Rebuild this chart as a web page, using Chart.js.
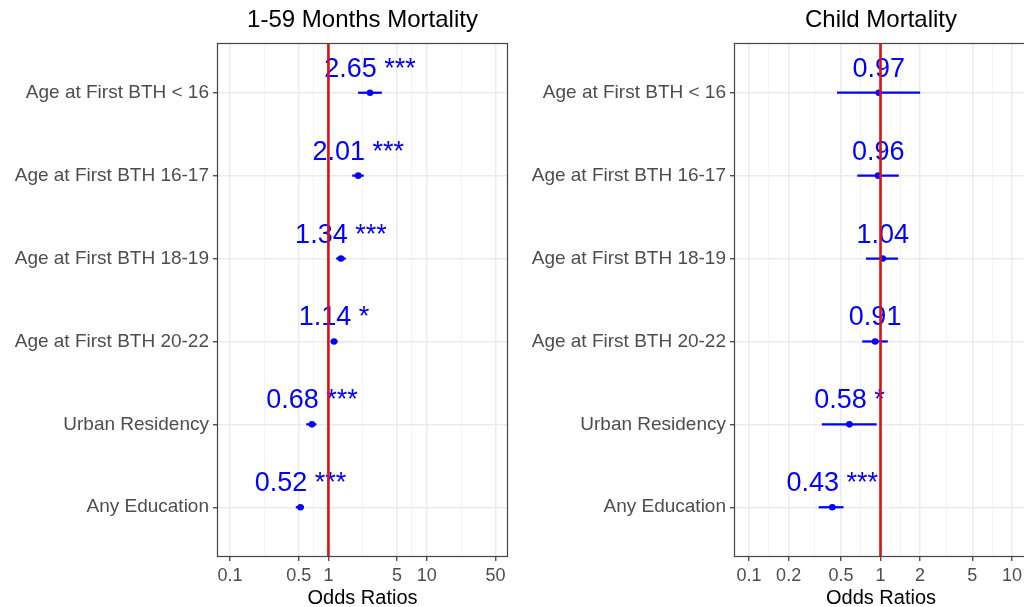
<!DOCTYPE html>
<html>
<head>
<meta charset="utf-8">
<script src="https://cdn.jsdelivr.net/npm/chart.js@4/dist/chart.umd.min.js"></script>
<style>
    html, body { margin: 0; padding: 0; background: #fff; overflow: hidden; }
    canvas { position: absolute; top: 0; }
    #left { left: 0; }
    #right { left: 512px; }
</style>
</head>
<body>
<canvas id="left" width="512" height="607"></canvas>
<canvas id="right" width="520" height="607"></canvas>
<script>
const categories = ['Age at First BTH < 16', 'Age at First BTH 16-17', 'Age at First BTH 18-19',
    'Age at First BTH 20-22', 'Urban Residency', 'Any Education'];

// 1-59 months mortality
const monthsOR = [2.65, 2.01, 1.34, 1.14, 0.68, 0.52];
const monthsLow = [2.02, 1.76, 1.21, 1.06, 0.60, 0.47];
const monthsHigh = [3.47, 2.27, 1.49, 1.23, 0.75, 0.56];
const monthsStars = ['***', '***', '***', '*', '***', '***'];
const monthsTicks = [0.1, 0.5, 1, 5, 10, 50];

// child mortality
const childOR = [0.97, 0.96, 1.04, 0.91, 0.58, 0.43];
const childLow = [0.47, 0.67, 0.78, 0.73, 0.36, 0.34];
const childHigh = [1.99, 1.37, 1.35, 1.13, 0.93, 0.52];
const childStars = ['', '', '', '', '*', '***'];
const childTicks = [0.1, 0.2, 0.5, 1, 2, 5, 10];

const refValue = 1;
const fontFamily = '"Liberation Sans", Arial, sans-serif';

// minor grid lines sit halfway between major breaks on the log scale
function minorBreaks(majors) {
    const out = [];
    for (let i = 0; i < majors.length - 1; i++) {
        out.push(Math.sqrt(majors[i] * majors[i + 1]));
    }
    return out;
}

const labelPlugin = {
    id: 'oddsLabels',
    beforeDatasetsDraw(chart) {
        const ctx = chart.ctx;
        const meta = chart.getDatasetMeta(1);
        const ds = chart.data.datasets[1];
        ctx.save();
        ctx.font = '27px ' + fontFamily;
        ctx.fillStyle = '#0000ff';
        ctx.textAlign = 'center';
        ctx.textBaseline = 'alphabetic';
        meta.data.forEach((pt, i) => {
            const txt = ds.data[i].x.toFixed(2) + (ds.stars[i] ? ' ' + ds.stars[i] : '');
            ctx.fillText(txt, pt.x, pt.y - 16);
        });
        ctx.restore();
    },
    afterDraw(chart) {
        const a = chart.chartArea;
        const ctx = chart.ctx;
        ctx.save();
        ctx.strokeStyle = '#444';
        ctx.lineWidth = 1.2;
        ctx.strokeRect(Math.round(a.left) + 0.5, Math.round(a.top) + 0.5,
            Math.round(a.right - a.left) - 1, Math.round(a.bottom - a.top) - 1);
        ctx.restore();
    }
};

function makeChart(id, title, est, low, high, stars, majors, xMin, xMax, yWidth, padRight) {
    const minors = minorBreaks(majors);
    const isMajor = v => majors.some(m => Math.abs(m - v) < 1e-9);
    return new Chart(document.getElementById(id), {
        type: 'scatter',
        data: {
            datasets: [{
                type: 'bar',
                indexAxis: 'y',
                data: est.map((v, i) => ({ y: i + 1, x: [low[i], high[i]] })),
                backgroundColor: '#0000ff',
                barThickness: 1.6,
                order: 3
            }, {
                data: est.map((v, i) => ({ x: v, y: i + 1 })),
                stars: stars,
                backgroundColor: '#0000ff',
                borderWidth: 0,
                pointRadius: 3.3,
                order: 2
            }, {
                type: 'line',
                data: [{ x: refValue, y: 0.4 }, { x: refValue, y: 6.6 }],
                borderColor: '#d81414',
                borderWidth: 2.6,
                pointRadius: 0,
                order: 1
            }]
        },
        options: {
            responsive: false,
            animation: false,
            layout: { padding: { left: 0, right: padRight, top: 0, bottom: 0 } },
            plugins: {
                legend: { display: false },
                tooltip: { enabled: false },
                title: {
                    display: true,
                    fullSize: false,
                    text: title,
                    color: '#000',
                    font: { size: 24, weight: 'normal', family: fontFamily },
                    padding: { top: 6, bottom: 8.2 }
                }
            },
            scales: {
                x: {
                    type: 'logarithmic',
                    min: xMin,
                    max: xMax,
                    bounds: 'data',
                    offset: false,
                    afterBuildTicks: s => {
                        s.ticks = majors.concat(minors).sort((a, b) => a - b).map(v => ({ value: v }));
                    },
                    afterFit: s => {
                        s.height = 50;
                        s.paddingLeft = 0;
                        s.paddingRight = 0;
                    },
                    border: { display: false },
                    grid: {
                        offset: false,
                        color: c => isMajor(c.tick.value) ? '#ebebeb' : '#f4f4f4',
                        lineWidth: c => isMajor(c.tick.value) ? 1.5 : 1,
                        tickColor: c => isMajor(c.tick.value) ? '#333' : 'rgba(0,0,0,0)',
                        tickLength: 4,
                        tickWidth: 1.2
                    },
                    ticks: {
                        autoSkip: false,
                        maxRotation: 0,
                        padding: 4,
                        color: '#4d4d4d',
                        font: { size: 18, family: fontFamily },
                        callback: v => isMajor(v) ? String(v) : ''
                    },
                    title: {
                        display: true,
                        text: 'Odds Ratios',
                        color: '#000',
                        font: { size: 20, family: fontFamily, lineHeight: 1 },
                        padding: { top: 0, bottom: -1 }
                    }
                },
                y: {
                    type: 'linear',
                    min: 0.4,
                    max: 6.6,
                    reverse: true,
                    bounds: 'data',
                    offset: false,
                    afterBuildTicks: s => {
                        s.ticks = categories.map((c, i) => ({ value: i + 1 }));
                    },
                    afterFit: s => { s.width = yWidth; },
                    border: { display: false },
                    grid: {
                        offset: false,
                        color: '#ebebeb',
                        lineWidth: 1.5,
                        tickColor: '#333',
                        tickLength: 4,
                        tickWidth: 1.2
                    },
                    ticks: {
                        padding: 4,
                        color: '#4d4d4d',
                        font: { size: 19, family: fontFamily },
                        callback: v => categories[v - 1]
                    }
                }
            }
        },
        plugins: [labelPlugin]
    });
}

const leftChart = makeChart('left', '1-59 Months Mortality', monthsOR, monthsLow, monthsHigh, monthsStars,
    monthsTicks, 0.0736, 67.1, 217, 4);
const rightChart = makeChart('right', 'Child Mortality', childOR, childLow, childHigh, childStars,
    childTicks, 0.0768, 13.25, 222, 0);
</script>
</body>
</html>
